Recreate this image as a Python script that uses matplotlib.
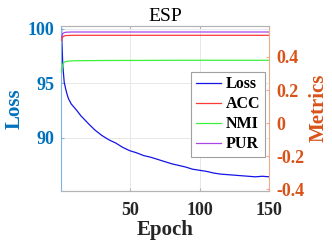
import matplotlib.pyplot as plt

# values
loss_epochs = [1, 2, 3, 4, 5, 6, 8, 10, 12, 15, 18, 21, 25, 30, 35, 40, 45, 50,
               55, 60, 65, 70, 75, 80, 85, 90, 95, 100, 105, 110, 115, 120, 125,
               130, 135, 140, 145, 150]
loss = [100.1, 96.6, 95.1, 94.5, 94.0, 93.6, 93.1, 92.8, 92.5, 92.0, 91.6, 91.2,
        90.7, 90.2, 89.8, 89.5, 89.1, 88.8, 88.6, 88.35, 88.2, 88.0, 87.8, 87.6,
        87.45, 87.3, 87.1, 87.0, 86.9, 86.75, 86.65, 86.6, 86.55, 86.5, 86.45,
        86.4, 86.45, 86.4]

metric_epochs = [1, 2, 3, 4, 5, 6, 8, 10, 20, 40, 60, 80, 100, 120, 140, 150]
acc = [0.50, 0.522, 0.527, 0.529, 0.530, 0.530, 0.531, 0.531, 0.531, 0.531,
       0.531, 0.531, 0.531, 0.531, 0.531, 0.531]
nmi = [0.307, 0.356, 0.368, 0.372, 0.374, 0.375, 0.376, 0.377, 0.378, 0.379,
       0.379, 0.380, 0.380, 0.380, 0.380, 0.380]
pur = [0.518, 0.542, 0.547, 0.549, 0.550, 0.550, 0.551, 0.551, 0.551, 0.551,
       0.551, 0.551, 0.551, 0.551, 0.551, 0.551]

left_ticks = [90, 95, 100]
right_ticks = [-0.4, -0.2, 0, 0.2, 0.4]
right_labels = ["-0.4", "-0.2", "0", "0.2", "0.4"]
x_ticks = [50, 100, 150]

blue = "#0072BD"
orange = "#D95319"
plt.rcParams["font.family"] = ["Liberation Serif", "DejaVu Serif"]

fig = plt.figure(figsize=(3.32, 2.48), dpi=100)
ax = fig.add_axes([0.185, 0.23, 0.626, 0.667])
ax2 = ax.twinx()

l1, = ax.plot(loss_epochs, loss, color="#1414E6", lw=0.9, label="Loss")
l2, = ax2.plot(metric_epochs, acc, color="#FF3838", lw=0.9, label="ACC")
l3, = ax2.plot(metric_epochs, nmi, color="#3CF03C", lw=0.9, label="NMI")
l4, = ax2.plot(metric_epochs, pur, color="#A648E8", lw=0.9, label="PUR")

ax.set_xlim(1, 150)
ax.set_ylim(85.1, 100.3)
ax2.set_ylim(-0.41, 0.59)
ax.set_xticks(x_ticks)
ax.set_yticks(left_ticks)
ax2.set_yticks(right_ticks)
ax2.set_yticklabels(right_labels)

ax.grid(True, color="#E8E8E8", lw=0.7)
ax.set_axisbelow(True)

for a in (ax, ax2):
    a.spines["top"].set_color("#B4B4B4")
    a.spines["bottom"].set_color("#B4B4B4")
ax.spines["left"].set_color("#7FB2DD")
ax2.spines["left"].set_visible(False)
ax2.spines["right"].set_color("#EFA98B")
ax.spines["right"].set_visible(False)

ax.tick_params(axis="x", direction="in", length=2, colors="#B4B4B4",
               labelcolor="#262626", labelsize=13, top=True, pad=8)
ax.tick_params(axis="y", direction="in", length=2, colors="#7FB2DD",
               labelcolor=blue, labelsize=13, pad=5)
ax2.tick_params(axis="y", direction="in", length=2, colors="#EFA98B",
                labelcolor=orange, labelsize=13, pad=5)
for lab in ax.get_xticklabels() + ax.get_yticklabels() + ax2.get_yticklabels():
    lab.set_fontweight("bold")

ax.set_xlabel("Epoch", fontsize=15, fontweight="bold", color="#262626", labelpad=1)
ax.set_ylabel("Loss", fontsize=15, fontweight="bold", color=blue, labelpad=2)
ax2.set_ylabel("Metrics", fontsize=15, fontweight="bold", color=orange, labelpad=3)
ax.set_title("ESP", fontsize=14, pad=3.5)

leg = ax2.legend(handles=[l1, l2, l3, l4], loc="upper right",
                 bbox_to_anchor=(0.978, 0.721), borderaxespad=0,
                 fancybox=False, framealpha=1, edgecolor="#A0A0A0",
                 handlelength=1.6, handletextpad=0.25, labelspacing=0.25,
                 borderpad=0.3, prop={"weight": "bold", "size": 11.5})
leg.get_frame().set_linewidth(0.8)

fig.savefig("out.png", dpi=100)
